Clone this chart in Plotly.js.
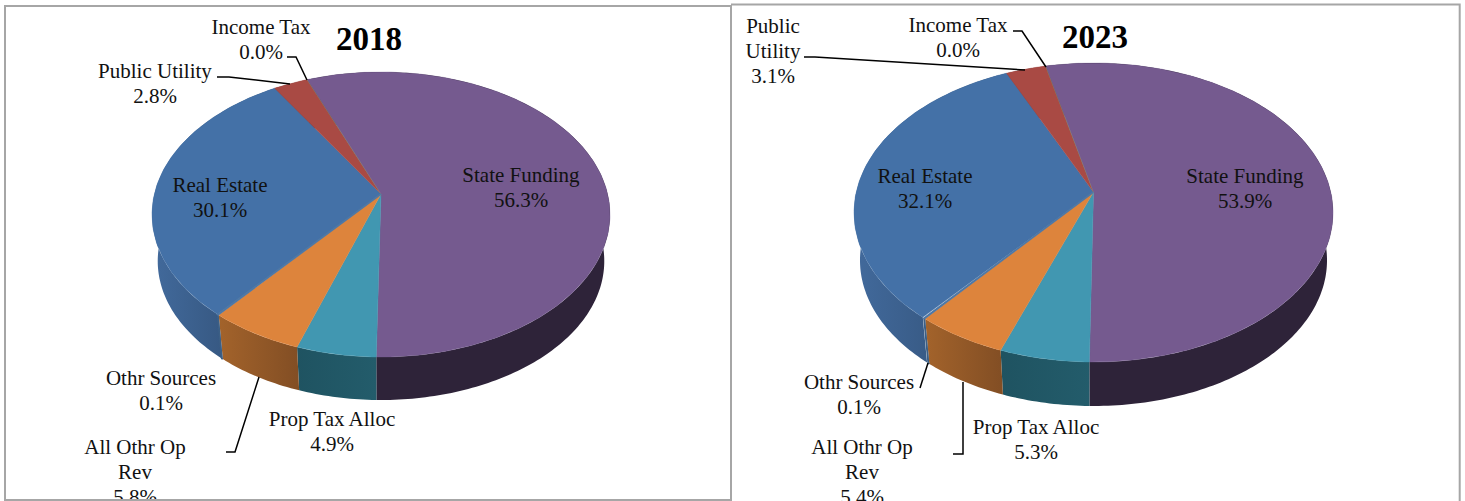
<!DOCTYPE html>
<html>
<head>
<meta charset="utf-8">
<script src="https://cdn.plot.ly/plotly-3.0.1.min.js"></script>
<style>html,body{margin:0;padding:0;background:#fff;overflow:hidden}#chart{width:1465px;height:501px}</style>
</head>
<body>
<div id="chart"></div>
<script>
// Data, clockwise from the Real Estate slice
const categories = ["Real Estate", "Public Utility", "Income Tax", "State Funding", "Prop Tax Alloc", "All Othr Op Rev", "Othr Sources"];
const values2018 = [30.1, 2.8, 0.0, 56.3, 4.9, 5.8, 0.1];
const values2023 = [32.1, 3.1, 0.0, 53.9, 5.3, 5.4, 0.1];

// Styles
const topColors = ["#4471a7", "#a94a44", "#8aa84b", "#755a8f", "#4197b1", "#dd843c", "#4f78a5"];
const wallColors = [
  ["#426a9c", "#2e4b6f"], ["#7a3431", "#7a3431"], ["#5f7534", "#5f7534"],
  ["#2e2339", "#2e2339"], ["#1f5361", "#235c6b"], ["#a3632b", "#824e24"], ["#3c5f85", "#3c5f85"]
];

// Pie geometry in page pixels (perspective disc)
const geom2018 = {cx: 381, cy: 194, up: 122, down: 163, rx: 229, bottom: 400, start: 219.9};
const geom2023 = {cx: 1093.5, cy: 192, up: 129, down: 170, rx: 239.5, bottom: 406, start: 220.1};
const bottomScale = 0.975;

function projector(g) {
  const k = (g.down - g.up) / (g.down + g.up);
  const a = g.up * (1 + k);
  const b = g.rx * Math.sqrt(1 - k * k);
  return function (deg, scale, cy) {
    const t = deg * Math.PI / 180, u = Math.sin(t), v = Math.cos(t), w = 1 + k * v;
    return [g.cx + scale * b * u / w, cy - scale * a * v / w];
  };
}

function pieTraces(values, g) {
  const project = projector(g);
  const bottomCy = g.bottom - bottomScale * g.down;
  const walls = [], tops = [];
  let ang = g.start;
  values.forEach(function (val, i) {
    const sweep = val * 3.6, steps = Math.max(2, Math.ceil(sweep));
    const sliver = val > 0 && val < 0.5;
    const upper = [], lower = [];
    for (let s = 0; s <= steps; s++) {
      const d = ang + sweep * s / steps;
      upper.push(project(d, 1, g.cy));
      lower.push(project(d, bottomScale, bottomCy));
    }
    const band = upper.concat(lower.slice().reverse());
    walls.push({
      type: "scatter", mode: sliver ? "lines" : "none", x: band.map(p => p[0]), y: band.map(p => p[1]),
      fill: "toself",
      fillcolor: wallColors[i][0],
      line: {color: wallColors[i][0], width: 1.6},
      fillgradient: {type: "horizontal", colorscale: [[0, wallColors[i][0]], [1, wallColors[i][1]]]},
      hoverinfo: "skip", showlegend: false, name: categories[i]
    });
    const wedge = [[g.cx, g.cy]].concat(upper, [[g.cx, g.cy]]);
    tops.push({
      type: "scatter", mode: "lines", x: wedge.map(p => p[0]), y: wedge.map(p => p[1]),
      fill: "toself", fillcolor: topColors[i],
      line: {color: topColors[i], width: sliver ? 1.6 : 0.4},
      hoverinfo: "skip", showlegend: false, name: categories[i]
    });
    ang += sweep;
  });
  return walls.concat(tops);
}

function pct(v) { return v.toFixed(1) + "%"; }

const labelFont = {family: "'Liberation Serif', serif", size: 21, color: "#111"};
const lineGap = 25;

// One entry per label: its text lines, centre x, first-line y
const labels2018 = [
  {lines: ["Income Tax", pct(values2018[2])], x: 261, y: 29},
  {lines: ["Public Utility", pct(values2018[1])], x: 155, y: 73},
  {lines: ["Real Estate", pct(values2018[0])], x: 220, y: 187},
  {lines: ["State Funding", pct(values2018[3])], x: 521, y: 177},
  {lines: ["Othr Sources", pct(values2018[6])], x: 161, y: 380},
  {lines: ["Prop Tax Alloc", pct(values2018[4])], x: 332, y: 421},
  {lines: ["All Othr Op", "Rev", pct(values2018[5])], x: 135, y: 449}
];
const labels2023 = [
  {lines: ["Income Tax", pct(values2023[2])], x: 958, y: 27},
  {lines: ["Public", "Utility", pct(values2023[1])], x: 773, y: 28},
  {lines: ["Real Estate", pct(values2023[0])], x: 925, y: 178},
  {lines: ["State Funding", pct(values2023[3])], x: 1245, y: 178},
  {lines: ["Othr Sources", pct(values2023[6])], x: 859, y: 384},
  {lines: ["Prop Tax Alloc", pct(values2023[4])], x: 1036, y: 429},
  {lines: ["All Othr Op", "Rev", pct(values2023[5])], x: 862, y: 449}
];

function labelTrace(list) {
  const x = [], y = [], text = [];
  list.forEach(function (l) {
    l.lines.forEach(function (t, i) { x.push(l.x); y.push(l.y + i * lineGap); text.push(t); });
  });
  return {type: "scatter", mode: "text", x: x, y: y, text: text, textposition: "middle center",
          textfont: labelFont, cliponaxis: true, hoverinfo: "skip", showlegend: false};
}

const titles = {
  type: "scatter", mode: "text", x: [369, 1095], y: [42, 40], text: ["<b>2018</b>", "<b>2023</b>"],
  textposition: "middle center", textfont: {family: "'Liberation Serif', serif", size: 33, color: "#000"},
  hoverinfo: "skip", showlegend: false
};

const leaderPaths = [
  "M287,57 L296,57 L307,80", "M217,77 L229,77 L290,84", "M226,452 L235,452 L259,377",
  "M1013,31 L1022,31 L1046,67", "M804,57 L815,57 L1025,70", "M920,388 L928,363", "M953,454 L963,454 L963,382"
];
const framePaths = ["M5,501 L5,6 L731,6 L731,501", "M5,500 L731,500", "M731,4.5 L1459.7,4.5 L1459.7,501"];

const shapes = leaderPaths.map(p => ({type: "path", path: p, xref: "x", yref: "y", layer: "above", line: {color: "#000", width: 1.5}}))
  .concat(framePaths.map(p => ({type: "path", path: p, xref: "x", yref: "y", layer: "above", line: {color: "#a6a6a6", width: 2}})));

const data = pieTraces(values2018, geom2018)
  .concat(pieTraces(values2023, geom2023))
  .concat([labelTrace(labels2018), labelTrace(labels2023), titles]);

const layout = {
  width: 1465, height: 501,
  margin: {l: 0, r: 0, t: 0, b: 0},
  paper_bgcolor: "#fff", plot_bgcolor: "#fff",
  showlegend: false,
  xaxis: {range: [0, 1465], visible: false, fixedrange: true},
  yaxis: {range: [501, 0], visible: false, fixedrange: true},
  shapes: shapes
};
Plotly.newPlot("chart", data, layout, {displayModeBar: false, staticPlot: true});
</script>
</body>
</html>
